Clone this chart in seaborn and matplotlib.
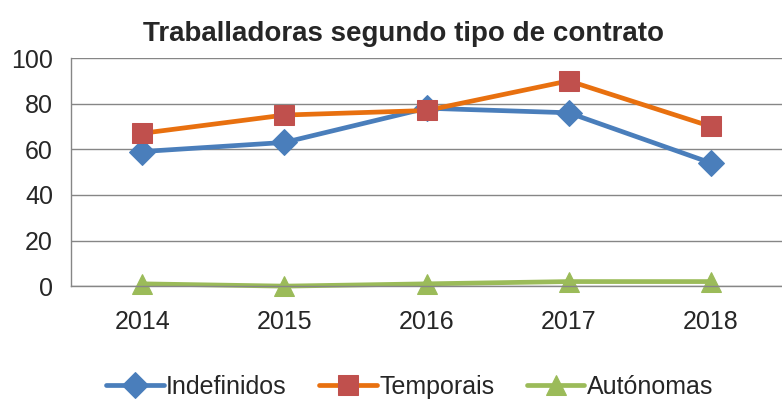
import pandas as pd
import matplotlib.pyplot as plt
import seaborn as sns

# values
anos = [2014, 2015, 2016, 2017, 2018]
indefinidos = [59, 63, 78, 76, 54]
temporais = [67, 75, 77, 90, 70]
autonomas = [1, 0, 1, 2, 2]
series = ["Indefinidos", "Temporais", "Autónomas"]

df = pd.DataFrame({
    "ano": anos * 3,
    "valor": indefinidos + temporais + autonomas,
    "serie": [s for s in series for _ in anos],
})

sns.set_theme(style="white")
plt.rcParams["font.family"] = ["Liberation Sans", "DejaVu Sans"]

line_cols = {"Indefinidos": "#4A7EBB", "Temporais": "#E8700F", "Autónomas": "#9BBB59"}
marker_cols = ["#4A7EBB", "#C0504D", "#9BBB59"]

fig = plt.figure(figsize=(7.82, 4.03), dpi=100)
ax = fig.add_axes([0.091, 0.29, 0.909, 0.566])

sns.lineplot(data=df, x="ano", y="valor", hue="serie", style="serie",
             hue_order=series, style_order=series, palette=line_cols,
             markers=["D", "s", "^"], dashes=False, linewidth=3.4,
             markersize=14, legend=False, ax=ax)

for ln, mc, ms in zip(ax.lines[:3], marker_cols, [13, 15, 15]):
    ln.set_markerfacecolor(mc)
    ln.set_markeredgecolor(mc)
    ln.set_markersize(ms)
    ln.set_clip_on(False)

ax.set_xlim(2013.5, 2018.5)
ax.set_ylim(0, 100)
ax.set_yticks([0, 20, 40, 60, 80, 100])
ax.set_xticks(anos)
ax.set_xticks([2013.5, 2014.5, 2015.5, 2016.5, 2017.5, 2018.5], minor=True)
ax.tick_params(axis="x", which="major", length=0, labelsize=18, pad=17)
ax.tick_params(axis="x", which="minor", length=6, color="#868686", direction="out")
ax.tick_params(axis="y", length=6, color="#868686", direction="out", labelsize=18, pad=7)
ax.set_xlabel("")
ax.set_ylabel("")

ax.grid(axis="y", color="#868686", linewidth=1)
for side in ["top", "right"]:
    ax.spines[side].set_visible(False)
for side in ["left", "bottom"]:
    ax.spines[side].set_color("#868686")
    ax.spines[side].set_linewidth(1)

ax.set_title("Traballadoras segundo tipo de contrato", fontsize=20,
             fontweight="bold", pad=12, x=0.468)

fig.legend(ax.lines[:3], series, loc="lower center", bbox_to_anchor=(0.524, -0.045),
           ncol=3, frameon=False, fontsize=18, handlelength=2.3,
           columnspacing=1.3, handletextpad=0.1)

fig.savefig("out.png", dpi=100)
